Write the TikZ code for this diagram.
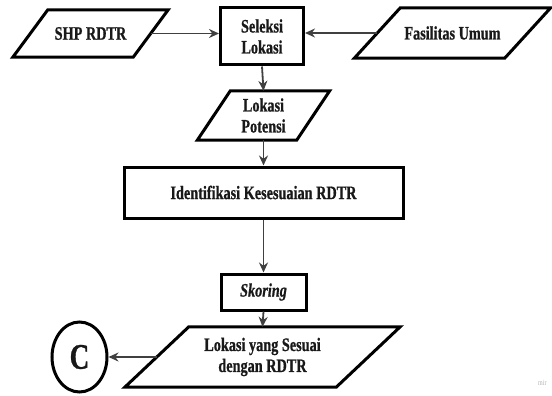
\documentclass[tikz,border=0pt]{standalone}
\usepackage{fontspec}
\setmainfont{Liberation Serif}[FakeStretch=0.75, BoldFeatures={FakeBold=0.8}, BoldItalicFeatures={FakeBold=0.8}]
\usetikzlibrary{shapes.geometric,arrows.meta}

% data node: a plain node for the text, outlined by a slanted parallelogram
% #1 name, #2 x, #3 y, #4 edge length, #5 height, #6 slant offset, #7 text
\newcommand{\datanode}[7]{%
  \node[minimum width=#4pt, minimum height=#5pt] (#1) at (#2,#3) {#7};
  \draw[outline]
    ([xshift={(#6)*0.5pt}]#1.north west) -- ([xshift={(#6)*0.5pt}]#1.north east)
    -- ([xshift={-(#6)*0.5pt}]#1.south east) -- ([xshift={-(#6)*0.5pt}]#1.south west)
    -- cycle;}

\begin{document}
\begin{tikzpicture}[x=1pt,y=-1pt,
  every node/.style={font=\bfseries\fontsize{19}{21}\selectfont, text=black!90,
    align=center, inner sep=0pt},
  outline/.style={draw=black, line width=3pt, line join=miter},
  box/.style={outline, rectangle},
  flow/.style={draw=black!75, line width=1.8pt, -{Stealth[length=10pt,width=9pt]}}
]
\useasboundingbox (0,0) rectangle (552,396);

% inputs and selection
\datanode{shp}{90.5}{33.5}{120}{47}{35}{SHP RDTR}
\node[box, minimum width=83pt, minimum height=57pt] (sel) at (262,36.5) {Seleksi\\Lokasi};
\datanode{fas}{452.5}{33}{150}{50}{46}{Fasilitas Umum}

% main chain
\datanode{lp}{263.5}{115.5}{99}{49}{33}{Lokasi\\Potensi}
\node[box, minimum width=279pt, minimum height=51pt] (idf) at (263.5,192.5) {Identifikasi Kesesuaian RDTR};
\node[box, minimum width=85pt, minimum height=36pt] (sko) at (263.5,292) {\itshape Skoring};
\datanode{lys}{262.5}{357}{211}{60}{64}{Lokasi yang Sesuai\\dengan RDTR}

% off-page connector
\node[ellipse, outline, minimum width=55pt, minimum height=70pt,
      font=\bfseries\fontsize{36}{40}\selectfont] (c) at (79.5,357) {C};

% mark in the corner
\node[anchor=west, font=\fontsize{8}{9}\selectfont, text=black!30] (mk) at (538,383) {mir};

\draw[flow] (shp.east) -- (shp.east -| sel.west);
\draw[flow] (fas.west) -- (fas.west -| sel.east);
\draw[flow] (sel.south) -- (lp.north);
\draw[flow] (lp.south) -- (idf.north);
\draw[flow] (idf.south) -- (sko.north);
\draw[flow] (sko.south) -- (lys.north);
\draw[flow] (lys.west) -- (c.east);
\end{tikzpicture}
\end{document}
